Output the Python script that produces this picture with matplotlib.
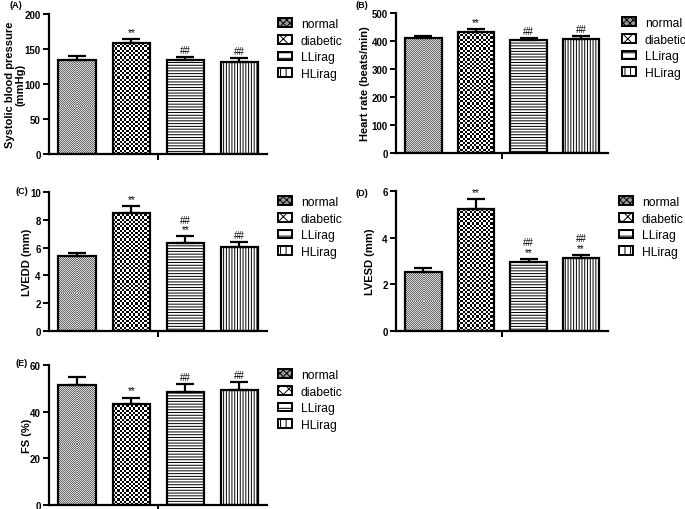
import numpy as np
import matplotlib
matplotlib.use("Agg")
import matplotlib.pyplot as plt
from matplotlib.patches import Patch
from matplotlib.colors import ListedColormap

plt.rcParams['font.family'] = ['Liberation Sans', 'DejaVu Sans']
plt.rcParams['hatch.linewidth'] = 0.7

groups = ['normal', 'diabetic', 'LLirag', 'HLirag']

# mean values and (upper) error
sbp = [135, 158, 134, 132]
sbp_err = [5, 6, 5, 5]
hr = [410, 432, 402, 408]
hr_err = [7, 10, 10, 10]
lvedd = [5.4, 8.5, 6.35, 6.05]
lvedd_err = [0.22, 0.5, 0.45, 0.35]
lvesd = [2.55, 5.22, 2.95, 3.12]
lvesd_err = [0.14, 0.42, 0.13, 0.13]
fs = [51.5, 43.5, 48.5, 49.2]
fs_err = [3.5, 2.5, 3.2, 3.4]

# significance marks per bar (bottom to top)
sbp_sig = [[], ['**'], ['##'], ['##']]
hr_sig = [[], ['**'], ['##'], ['##']]
lvedd_sig = [[], ['**'], ['**', '##'], ['##']]
lvesd_sig = [[], ['**'], ['**', '##'], ['**', '##']]
fs_sig = [[], ['**'], ['##'], ['##']]

W, H = 685, 510
fig = plt.figure(figsize=(6.85, 5.1), dpi=100)


def px_axes(l, r, top, bot):
    return fig.add_axes([l / W, 1 - bot / H, (r - l) / W, (bot - top) / H])


def checker(ax, rect, cell, cmap):
    x0, y0 = rect.get_x(), rect.get_y()
    x1, y1 = x0 + rect.get_width(), y0 + rect.get_height()
    p0 = ax.transData.transform((x0, y0))
    p1 = ax.transData.transform((x1, y1))
    nx = max(1, int(round(abs(p1[0] - p0[0]) / cell)))
    ny = max(1, int(round(abs(p1[1] - p0[1]) / cell)))
    arr = np.indices((ny, nx)).sum(0) % 2
    ax.imshow(arr, cmap=cmap, vmin=0, vmax=1, extent=[x0, x1, y0, y1],
              origin='lower', interpolation='nearest', aspect='auto', zorder=1)


fine = ListedColormap(['#6a6a6a', '#d8d8d8'])
coarse = ListedColormap(['black', 'white'])


def panel(ax, vals, errs, sigs, ymax, step, ylabel, lab_right, letter, lab_xy, leg_xy):
    x = np.arange(len(vals))
    hatches = [None, None, '------', '||||||']
    bars = ax.bar(x, vals, width=0.69, facecolor='white', edgecolor='black',
                  linewidth=1.6, zorder=2)
    for b, h in zip(bars, hatches):
        if h:
            b.set_hatch(h)
    bars[0].set_facecolor('none')
    bars[1].set_facecolor('none')
    ax.errorbar(x, vals, yerr=[[0] * len(vals), errs], fmt='none', ecolor='black',
                elinewidth=1.6, capsize=6.5, capthick=1.6, zorder=3)
    ax.set_xlim(-0.52, 3.51)
    ax.set_ylim(0, ymax)
    checker(ax, bars[0], 1.0, fine)
    checker(ax, bars[1], 2.2, coarse)
    ax.set_xlim(-0.52, 3.51)
    ax.set_ylim(0, ymax)
    for i in range(len(vals)):
        y = vals[i] + errs[i]
        off = ymax * 0.015
        for s in sigs[i]:
            ax.text(x[i], y + off, s, ha='center', va='bottom', fontsize=7)
            off += ymax * 0.07
    for sp in ['top', 'right']:
        ax.spines[sp].set_visible(False)
    for sp in ['left', 'bottom']:
        ax.spines[sp].set_linewidth(1.6)
    ax.set_xticks([1.5])
    ax.set_xticklabels([''])
    ax.set_yticks(np.arange(0, ymax + step / 2, step))
    ax.tick_params(axis='both', width=1.4, length=4, pad=2, labelsize=7)
    for t in ax.get_yticklabels():
        t.set_fontweight('bold')
    ax.set_ylabel(ylabel, fontsize=8, fontweight='bold', linespacing=1.1)
    bb = ax.get_position()
    ax.yaxis.set_label_coords((lab_right / W - bb.x0) / bb.width, 0.5)
    fig.text(lab_xy[0] / W, 1 - lab_xy[1] / H, letter, fontsize=6.5,
             fontweight='bold', ha='left', va='center')
    handles = [Patch(facecolor='#999999', edgecolor='black', hatch='xxxxx', linewidth=1.4),
               Patch(facecolor='white', edgecolor='black', hatch='xxx', linewidth=1.4),
               Patch(facecolor='white', edgecolor='black', hatch='---', linewidth=1.4),
               Patch(facecolor='white', edgecolor='black', hatch='|||', linewidth=1.4)]
    ax.legend(handles, groups, loc='upper left',
              bbox_to_anchor=(leg_xy[0] / W, 1 - leg_xy[1] / H),
              bbox_transform=fig.transFigure, frameon=False, fontsize=8.7,
              borderpad=0, borderaxespad=0, handlelength=1.15, handleheight=0.75,
              handletextpad=0.75, labelspacing=0.38)


axA = px_axes(49, 267, 15, 155)
panel(axA, sbp, sbp_err, sbp_sig, 200, 50, 'Systolic blood pressure\n(mmHg)', 26,
      '(A)', (9, 6), (278, 19))

axB = px_axes(396, 608, 14, 154)
panel(axB, hr, hr_err, hr_sig, 500, 100, 'Heart rate (beats/min)', 370,
      '(B)', (355, 6), (622, 18))

axC = px_axes(49, 267, 193, 332)
panel(axC, lvedd, lvedd_err, lvedd_sig, 10, 2, 'LVEDD (mm)', 32,
      '(C)', (15, 192), (278, 197))

axD = px_axes(396, 608, 192, 332)
panel(axD, lvesd, lvesd_err, lvesd_sig, 6, 2, 'LVESD (mm)', 375,
      '(D)', (355, 194), (619, 197))

axE = px_axes(49, 267, 366, 506)
panel(axE, fs, fs_err, fs_sig, 60, 20, 'FS (%)', 32,
      '(E)', (15, 364), (278, 370))

fig.savefig('out.png', dpi=100)
